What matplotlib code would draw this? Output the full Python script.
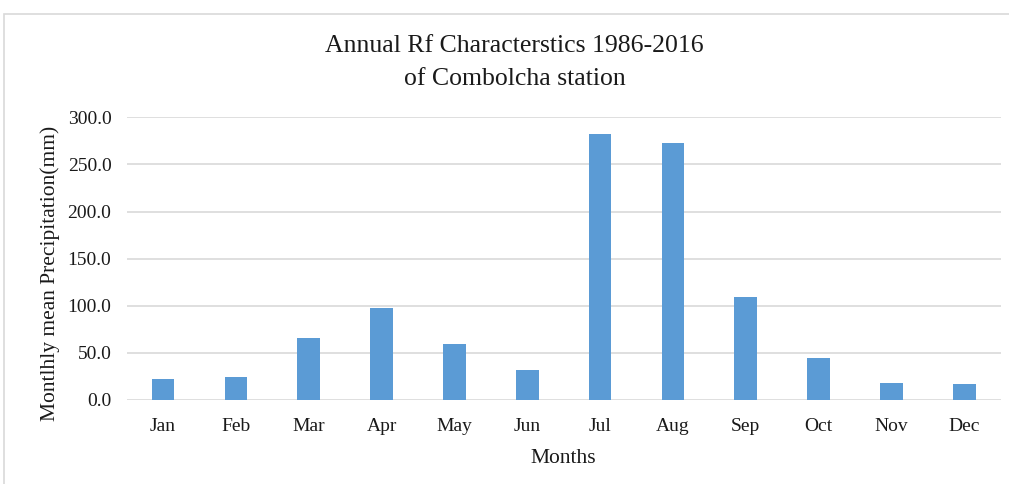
import matplotlib
matplotlib.use("Agg")
import matplotlib.pyplot as plt
from matplotlib.patches import Rectangle

plt.rcParams['font.family'] = ['Liberation Serif', 'DejaVu Serif']

months = ["Jan", "Feb", "Mar", "Apr", "May", "Jun",
          "Jul", "Aug", "Sep", "Oct", "Nov", "Dec"]
rain = [22.6, 24.7, 66.1, 97.3, 59.4, 31.5,
        282.6, 272.7, 109.0, 44.9, 18.0, 16.6]
yticks = [0, 50, 100, 150, 200, 250, 300]

fig = plt.figure(figsize=(10.09, 4.84), dpi=100)

# light frame around the chart
fig.patches.append(Rectangle((4 / 1009, -0.1), 1.2, 1.1 - 13.5 / 484,
                             transform=fig.transFigure, fill=False,
                             edgecolor="#D9D9D9", linewidth=1.2))

ax = fig.add_axes([126.7 / 1009, 1 - 400 / 484,
                   (1000.7 - 126.7) / 1009, (400 - 117.3) / 484])
x = range(len(months))
ax.bar(x, rain, width=0.31, color="#5B9BD5", zorder=3)

ax.set_xlim(-0.5, len(months) - 0.5)
ax.set_ylim(0, 300)
ax.set_yticks(yticks)
ax.set_yticklabels([f"{v:.1f}" for v in yticks])
ax.set_xticks(list(x))
ax.set_xticklabels(months)
ax.grid(axis="y", color="#D9D9D9", linewidth=1.2, zorder=0)
ax.set_axisbelow(True)
for s in ax.spines.values():
    s.set_visible(False)
ax.tick_params(axis="both", length=0, labelsize=14, colors="#1a1a1a")
ax.tick_params(axis="y", pad=11)
ax.tick_params(axis="x", pad=13)

ax.set_xlabel("Months", fontsize=15.5, color="#1a1a1a", labelpad=10)
ax.set_ylabel("Montlhly mean Precipitation(mm)", fontsize=15.5,
              color="#1a1a1a", labelpad=6)
ax.yaxis.set_label_coords(-0.076, 0.447)

fig.text(0.51, 1 - 62.5 / 484, "Annual Rf Characterstics 1986-2016\nof Combolcha station",
         ha="center", va="center", fontsize=18.5, color="#1a1a1a", linespacing=1.6)

fig.savefig("out.png", dpi=100)
